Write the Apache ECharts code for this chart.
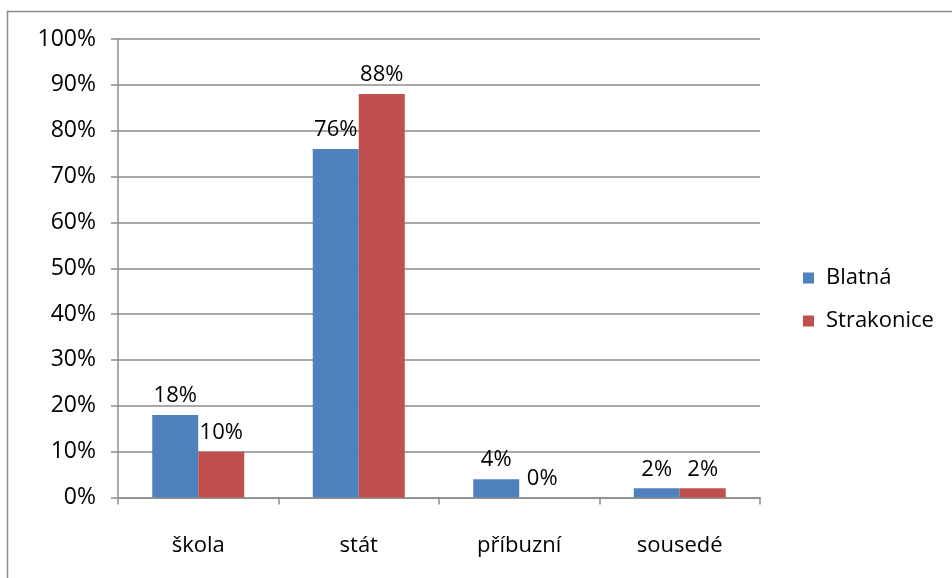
<!DOCTYPE html>
<html><head><meta charset="utf-8">
<script src="https://cdn.jsdelivr.net/npm/echarts@6/dist/echarts.min.js"></script>
<style>html,body{margin:0;padding:0;background:#fff}#c{width:952px;height:578px}</style>
</head><body><div id="c"></div>
<script>
const categories = ['škola', 'stát', 'příbuzní', 'sousedé'];
const blatna = [18, 76, 4, 2];
const strakonice = [10, 88, 0, 2];
const seriesNames = ['Blatná', 'Strakonice'];
const yTicks = [0, 10, 20, 30, 40, 50, 60, 70, 80, 90, 100];

const FONT = 'Open Sans';
const FS = 22;
const chart = echarts.init(document.getElementById('c'), null, {renderer: 'canvas'});
const lbl = {show: true, position: 'top', distance: 8, formatter: p => p.value + '%', color: '#000', fontSize: FS, fontFamily: FONT};
chart.setOption({
  animation: false,
  textStyle: {fontFamily: FONT},
  graphic: [{type: 'rect', shape: {x: 7.5, y: 11.5, width: 960, height: 600}, style: {fill: 'none', stroke: '#8c8c8c', lineWidth: 1.5}, silent: true}],
  grid: {left: 118, right: 192, top: 39, bottom: 80.5, containLabel: false},
  legend: {
    orient: 'vertical', left: 798, top: 262, itemWidth: 11, itemHeight: 11, itemGap: 21,
    icon: 'rect', textStyle: {fontSize: FS, fontFamily: FONT, color: '#000', padding: [0, 0, 0, 7]},
    data: seriesNames
  },
  xAxis: {
    type: 'category', data: categories,
    axisLine: {lineStyle: {color: '#8c8c8c', width: 1.5}},
    axisTick: {show: true, length: 7, lineStyle: {color: '#8c8c8c', width: 1.5}},
    axisLabel: {margin: 37, fontSize: FS, fontFamily: FONT, color: '#000'}
  },
  yAxis: {
    type: 'value', min: yTicks[0], max: yTicks[yTicks.length - 1], interval: 10,
    axisLine: {show: true, lineStyle: {color: '#8c8c8c', width: 1.5}},
    axisTick: {show: true, length: 7, lineStyle: {color: '#8c8c8c', width: 1.5}},
    splitLine: {lineStyle: {color: '#8c8c8c', width: 1.5}},
    axisLabel: {margin: 22, fontSize: 23, fontFamily: FONT, color: '#000', formatter: v => v + '%'}
  },
  series: [
    {name: seriesNames[0], type: 'bar', data: blatna, barWidth: 46, barGap: '0%', itemStyle: {color: '#4F81BD'}, label: lbl},
    {name: seriesNames[1], type: 'bar', data: strakonice, barWidth: 46, barGap: '0%', itemStyle: {color: '#C0504D'}, label: lbl}
  ]
});
</script></body></html>
